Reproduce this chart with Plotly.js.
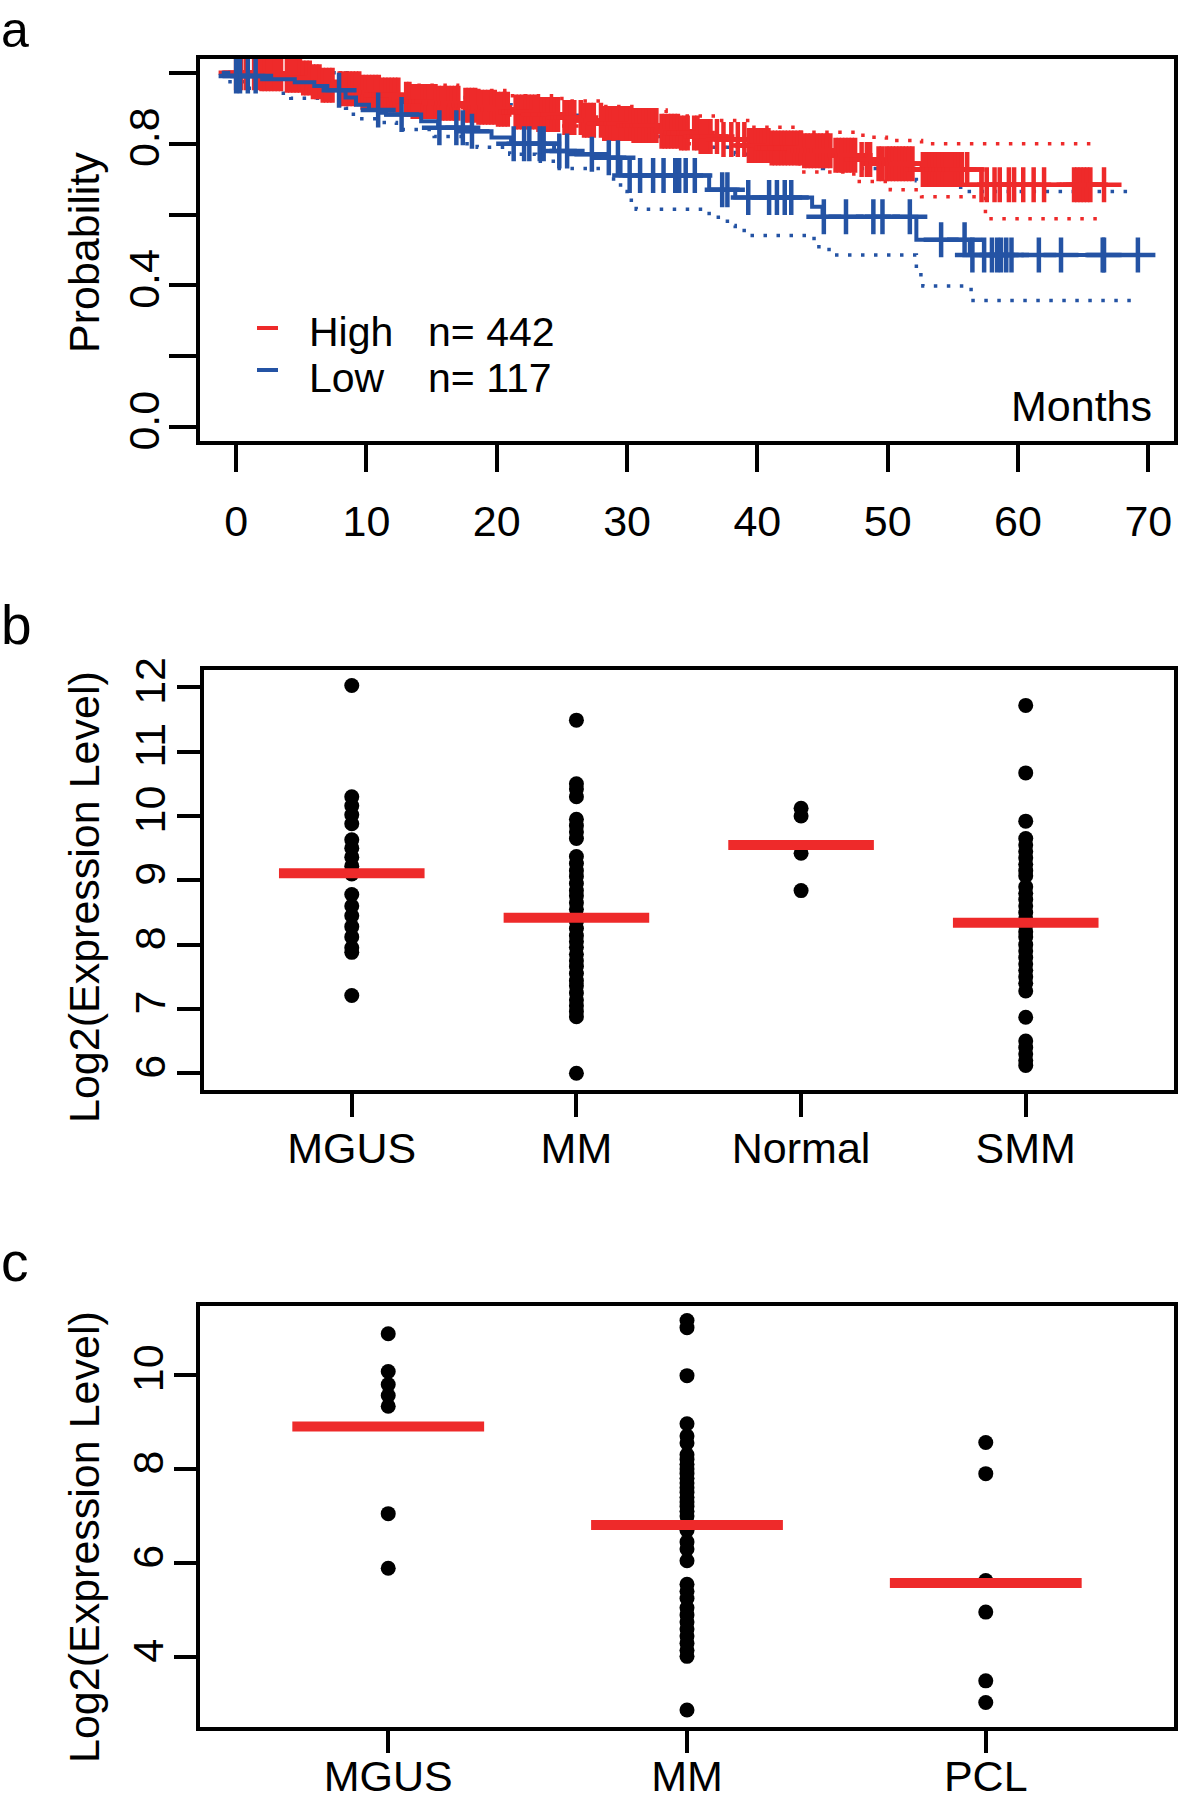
<!DOCTYPE html>
<html><head><meta charset="utf-8">
<script src="https://cdn.plot.ly/plotly-3.0.1.min.js"></script>
<style>html,body{margin:0;padding:0;background:#fff;} #chart{width:1181px;height:1805px;}</style>
</head><body><div id="chart"></div>
<script>
// ---------------- Panel a: Kaplan-Meier data (months, survival probability) ----------------
const highTimes = [-1.1, 1.9, 3.7, 5.0, 5.8, 6.6, 7.7, 9.5, 11.0, 12.7, 13.5, 15.5, 17.3, 18.5, 20.0, 21.1, 23.0, 24.9, 26.5, 28.2, 30.5, 32.5, 34.0, 35.5, 37.0, 39.3, 41.0, 43.5, 45.8, 47.7, 49.3, 52.6, 57.2, 66.6];
const highSurv  = [1.0, 0.997, 0.993, 0.985, 0.975, 0.965, 0.955, 0.945, 0.937, 0.925, 0.919, 0.914, 0.908, 0.903, 0.897, 0.889, 0.882, 0.874, 0.866, 0.857, 0.851, 0.835, 0.83, 0.82, 0.812, 0.795, 0.788, 0.78, 0.767, 0.755, 0.743, 0.727, 0.684, 0.684];
const highUpperT = [-1.1, 5.0, 8.0, 12.0, 17.0, 21.0, 25.0, 28.0, 31.0, 33.0, 37.0, 39.6, 43.2, 48.1, 49.9, 52.6, 65.8];
const highUpperS = [1.0, 1.0, 0.98, 0.965, 0.95, 0.935, 0.92, 0.905, 0.895, 0.878, 0.865, 0.846, 0.832, 0.818, 0.809, 0.80, 0.795];
const highLowerT = [-1.1, 3.0, 5.0, 7.0, 9.0, 12.0, 15.0, 18.0, 21.0, 25.0, 28.0, 31.0, 33.0, 36.0, 39.0, 41.0, 43.2, 47.4, 50.2, 52.6, 57.5, 66.5];
const highLowerS = [0.99, 0.985, 0.97, 0.955, 0.935, 0.918, 0.90, 0.885, 0.868, 0.85, 0.835, 0.82, 0.80, 0.79, 0.765, 0.75, 0.72, 0.693, 0.67, 0.65, 0.588, 0.588];
const highCensored = [0.0, 0.36, 0.74, 1.38, 1.76,
  1.95, 2.2, 2.45, 2.7, 2.95, 3.2, 3.45,
  3.9, 4.15, 4.4, 4.65, 4.9,
  5.15, 5.4, 5.65, 5.9, 6.15, 6.4, 6.65, 6.9, 7.15, 7.4,
  7.95, 8.2, 8.45, 8.7, 8.95, 9.2, 9.45, 9.7, 9.95, 10.2, 10.45, 10.7, 10.95, 11.2, 11.45, 11.7, 11.95, 12.2, 12.45,
  13.05, 13.3, 13.55, 13.8, 14.05, 14.3, 14.55, 14.8, 15.05, 15.3, 15.55, 15.8, 16.05, 16.3, 16.55, 16.8, 17.05,
  17.6, 17.85, 18.1, 18.35, 18.6, 18.85, 19.1, 19.35, 19.6, 19.85, 20.1, 20.35, 20.6, 20.85,
  21.45, 21.7, 21.95, 22.2, 22.45, 22.7, 22.95, 23.2, 23.45, 23.7, 23.95, 24.2, 24.45, 24.7,
  25.2, 25.45, 25.7, 25.95,
  26.45, 26.7, 26.95, 27.2, 27.45,
  28.0, 28.25, 28.5, 28.75, 29.0, 29.25, 29.5, 29.75, 30.0, 30.25, 30.5, 30.75, 31.0, 31.25, 31.5, 31.75, 32.0, 32.25,
  32.65, 32.9, 33.15, 33.4, 33.65, 33.9, 34.15, 34.4, 34.65,
  35.15, 35.4, 35.65, 35.9, 36.15, 36.4,
  36.9, 37.4, 38.0, 38.5, 39.0,
  39.35, 39.6, 39.85, 40.1, 40.35, 40.6, 40.85, 41.1, 41.35, 41.6, 41.85, 42.1, 42.35, 42.6, 42.85, 43.1, 43.35, 43.6, 43.85, 44.1, 44.35, 44.6, 44.85, 45.1, 45.35, 45.6,
  46.0, 46.25, 46.5, 46.75, 47.0, 47.25, 47.5,
  48.0, 48.4, 48.65,
  49.3, 49.55,
  49.9, 50.15, 50.4, 50.65, 50.9, 51.15, 51.4, 51.65, 51.9,
  52.7, 52.95, 53.2, 53.45, 53.7, 53.95, 54.2, 54.45, 54.7, 54.95, 55.2, 55.45, 55.7,
  56.1, 57.2, 57.6, 58.2, 58.6, 59.3, 59.7, 60.4, 61.2, 62.0,
  64.3, 64.55, 64.8, 65.05, 65.3, 65.55,
  66.6];

const lowTimes = [-1.1, -0.6, 2.0, 4.5, 6.0, 7.0, 8.4, 9.2, 10.2, 11.0, 11.5, 14.2, 15.5, 17.8, 19.6, 21.1, 24.4, 25.5, 28.2, 29.5, 36.3, 38.3, 44.2, 45.0, 52.2, 56.3, 69.2];
const lowSurv  = [1.0, 0.991, 0.982, 0.973, 0.963, 0.951, 0.93, 0.91, 0.895, 0.887, 0.882, 0.863, 0.845, 0.835, 0.817, 0.80, 0.779, 0.77, 0.76, 0.71, 0.67, 0.648, 0.622, 0.594, 0.529, 0.486, 0.486];
const lowUpperT = [-0.6, 9.0, 11.0, 14.2, 15.5, 19.6, 21.1, 24.4, 28.2, 29.5, 36.3, 38.3, 44.2, 45.0, 52.2, 55.6, 68.5];
const lowUpperS = [1.0, 0.97, 0.955, 0.945, 0.93, 0.91, 0.895, 0.88, 0.86, 0.82, 0.79, 0.77, 0.75, 0.73, 0.695, 0.665, 0.665];
const lowLowerT = [-0.6, 1.0, 3.2, 4.2, 8.4, 9.0, 10.9, 12.3, 15.2, 17.4, 18.5, 21.0, 23.0, 24.6, 28.6, 29.5, 30.0, 30.7, 36.3, 37.7, 38.3, 39.2, 44.0, 44.5, 45.5, 52.2, 52.7, 56.4, 68.9];
const lowLowerS = [0.975, 0.956, 0.942, 0.928, 0.90, 0.87, 0.86, 0.84, 0.82, 0.80, 0.79, 0.77, 0.75, 0.73, 0.70, 0.665, 0.64, 0.615, 0.592, 0.569, 0.555, 0.541, 0.532, 0.509, 0.486, 0.43, 0.398, 0.357, 0.357];
const lowCensored = [0.0, 0.3, 0.9, 1.5, 7.9, 10.9, 12.7, 15.6, 16.9, 17.4, 18.1, 21.3, 22.1, 22.5, 23.3, 23.6, 24.8, 25.4, 27.3, 28.6, 29.3, 30.2, 31.0, 32.0, 32.8, 33.7, 34.0, 34.5, 35.2, 37.3, 37.7, 39.3, 40.9, 41.5, 42.1, 42.6, 45.1, 46.8, 48.9, 49.6, 51.7, 54.1, 55.9, 56.5, 57.4, 58.0, 58.4, 58.7, 59.1, 59.5, 61.6, 63.3, 66.5, 66.6, 69.2];

const monthTicks = [0, 10, 20, 30, 40, 50, 60, 70];
const probTicks = [0, 0.2, 0.4, 0.6, 0.8, 1.0];
const probTickText = ['0.0', '', '0.4', '', '0.8', ''];
const legendNames = ['High', 'Low'];
const legendN = ['n= 442', 'n= 117'];

// ---------------- Panel b ----------------
const catsB = ['MGUS', 'MM', 'Normal', 'SMM'];
const mgusB = [12.03, 10.3, 10.16, 10.02, 9.88, 9.63, 9.5, 9.36, 9.22, 9.1, 8.78, 8.6, 8.45, 8.28, 8.12, 7.95, 7.88, 7.21];
const mmB = [11.49, 10.5, 10.42, 10.3, 9.95, 9.85, 9.75, 9.65, 9.37, 9.26, 9.15, 9.06, 8.95, 8.84, 8.76, 8.65, 8.55, 8.44, 8.36, 8.25, 8.14, 8.05, 7.96, 7.85, 7.75, 7.66, 7.55, 7.44, 7.36, 7.25, 7.14, 7.05, 6.96, 6.88, 6.0];
const normalB = [10.12, 10.0, 9.42, 8.84];
const smmB = [11.72, 10.67, 9.92, 9.65, 9.55, 9.45, 9.35, 9.25, 9.15, 9.07, 8.9, 8.8, 8.7, 8.6, 8.5, 8.4, 8.3, 8.2, 8.12, 8.0, 7.9, 7.8, 7.7, 7.6, 7.5, 7.4, 7.28, 6.87, 6.5, 6.4, 6.3, 6.2, 6.12];
const meansB = [9.11, 8.42, 9.55, 8.34];
const ticksB = [6, 7, 8, 9, 10, 11, 12];

// ---------------- Panel c ----------------
const catsC = ['MGUS', 'MM', 'PCL'];
const mgusC = [10.87, 10.07, 9.79, 9.56, 9.33, 7.05, 5.89];
const mmC = [11.15, 11.0, 9.98, 8.96, 8.7, 8.55, 8.3, 8.2, 8.1, 8.0, 7.9, 7.8, 7.7, 7.6, 7.5, 7.4, 7.3, 7.2, 7.1, 7.0, 6.85, 6.7, 6.45, 6.3, 6.05, 5.55, 5.4, 5.25, 5.05, 4.9, 4.75, 4.6, 4.45, 4.3, 4.15, 4.02, 2.88];
const pclC = [8.56, 7.9, 5.63, 4.96, 3.5, 3.04];
const meansC = [8.9, 6.81, 5.58];
const ticksC = [4, 6, 8, 10];

// ---------------- styling ----------------
const RED = '#EE2A2A', BLUE = '#2453A4';
const FONT = 'Liberation Sans, Arial, Helvetica, sans-serif';
const FS = 43;
const W = 1181, H = 1805;
const PX = x => x / W;
const PY = y => 1 - y / H;

function stepAt(T, S, t) { let v = S[0]; for (let i = 0; i < T.length; i++) { if (T[i] <= t) v = S[i]; } return v; }

const traces = [];
function ci(T, S, color) {
  traces.push({x: T, y: S, xaxis: 'x', yaxis: 'y', mode: 'lines', hoverinfo: 'skip',
    line: {shape: 'hv', color: color, width: 3.5, dash: '3.5px,9.5px'}});
}
function km(T, S, C, color) {
  traces.push({x: T, y: S, xaxis: 'x', yaxis: 'y', mode: 'lines', line: {shape: 'hv', color: color, width: 4}});
  traces.push({x: C, y: C.map(t => stepAt(T, S, t)), xaxis: 'x', yaxis: 'y', mode: 'markers',
    marker: {symbol: 'cross-thin', size: 25, color: color, line: {color: color, width: 4.5}}});
}
ci(lowLowerT, lowLowerS, BLUE);
ci(lowUpperT, lowUpperS, BLUE);
ci(highUpperT, highUpperS, RED);
ci(highLowerT, highLowerS, RED);
km(highTimes, highSurv, highCensored, RED);
km(lowTimes, lowSurv, lowCensored, BLUE);

function strip(groups, means, xa, ya, lineSize) {
  groups.forEach((g, i) => {
    traces.push({x: g.map(() => i + 1), y: g, xaxis: xa, yaxis: ya, mode: 'markers',
      marker: {symbol: 'circle', size: 15, color: '#000'}});
  });
  traces.push({x: means.map((m, i) => i + 1), y: means, xaxis: xa, yaxis: ya, mode: 'markers',
    marker: {symbol: 'line-ew', size: lineSize, color: RED, line: {color: RED, width: 10}}});
}
strip([mgusB, mmB, normalB, smmB], meansB, 'x2', 'y2', 104);
strip([mgusC, mmC, pclC], meansC, 'x3', 'y3', 137);

const axBase = {showline: true, mirror: true, linecolor: '#000', linewidth: 4, ticks: 'outside',
  tickwidth: 4, tickcolor: '#000', showgrid: false, zeroline: false, fixedrange: true,
  tickfont: {family: FONT, size: FS, color: '#000'}};

const layout = {
  width: W, height: H, margin: {l: 0, r: 0, t: 0, b: 0}, showlegend: false,
  paper_bgcolor: '#fff', plot_bgcolor: '#fff',
  xaxis: Object.assign({}, axBase, {domain: [PX(200), PX(1174)], anchor: 'y', range: [-2.77, 71.97],
    tickvals: monthTicks, ticklen: 27, ticklabelstandoff: 12}),
  yaxis: Object.assign({}, axBase, {domain: [PY(441.3), PY(58.6)], anchor: 'x', range: [-0.04, 1.04],
    tickvals: probTicks, ticktext: probTickText, tickangle: -90, ticklen: 27, ticklabelstandoff: -7}),
  xaxis2: Object.assign({}, axBase, {domain: [PX(203.5), PX(1174)], anchor: 'y2', range: [0.34, 4.66],
    tickvals: [1, 2, 3, 4], ticktext: catsB, ticklen: 23, ticklabelstandoff: -6}),
  yaxis2: Object.assign({}, axBase, {domain: [PY(1090), PY(670)], anchor: 'x2', range: [5.74, 12.27],
    tickvals: ticksB, tickangle: -90, ticklen: 23, ticklabelstandoff: -6}),
  xaxis3: Object.assign({}, axBase, {domain: [PX(200), PX(1174)], anchor: 'y3', range: [0.37, 3.63],
    tickvals: [1, 2, 3], ticktext: catsC, ticklen: 22, ticklabelstandoff: -14}),
  yaxis3: Object.assign({}, axBase, {domain: [PY(1727), PY(1305.5)], anchor: 'x3', range: [2.52, 11.47],
    tickvals: ticksC, tickangle: -90, ticklen: 22, ticklabelstandoff: -6}),
  shapes: [
    {type: 'line', xref: 'paper', yref: 'paper', x0: PX(257), x1: PX(278), y0: PY(328), y1: PY(328), line: {color: RED, width: 4}},
    {type: 'line', xref: 'paper', yref: 'paper', x0: PX(257), x1: PX(278), y0: PY(370), y1: PY(370), line: {color: BLUE, width: 4}}
  ],
  annotations: []
};
const A = layout.annotations;
function txt(t, x, y, opts) {
  A.push(Object.assign({text: t, xref: 'paper', yref: 'paper', x: PX(x), y: PY(y), showarrow: false,
    xanchor: 'left', yanchor: 'middle', borderpad: 0, font: {family: FONT, size: FS, color: '#000'}}, opts || {}));
}
const LEG = {font: {family: FONT, size: 41, color: '#000'}};
txt('a', 0, 1, {yanchor: 'top', font: {family: FONT, size: 50, color: '#000'}});
txt('b', 0, 625, {font: {family: FONT, size: 55, color: '#000'}});
txt('c', 0, 1262, {font: {family: FONT, size: 55, color: '#000'}});
txt(legendNames[0], 308, 332, LEG);
txt(legendN[0], 427, 332, LEG);
txt(legendNames[1], 308, 378.5, LEG);
txt(legendN[1], 427, 378.5, LEG);
txt('Months', 1153, 406, {xanchor: 'right'});
txt('Probability', 84, 253, {xanchor: 'center', textangle: -90});
txt('Log2(Expression Level)', 84, 897, {xanchor: 'center', textangle: -90});
txt('Log2(Expression Level)', 84, 1537, {xanchor: 'center', textangle: -90});

Plotly.newPlot('chart', traces, layout, {displayModeBar: false, staticPlot: true});
</script></body></html>
